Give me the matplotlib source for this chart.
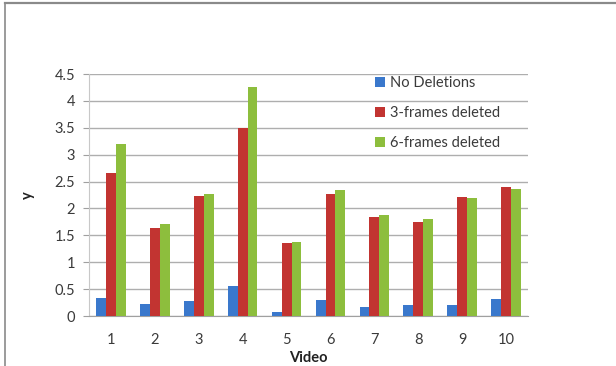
import matplotlib

matplotlib.use("Agg")
import matplotlib.pyplot as plt
import numpy as np
from matplotlib.lines import Line2D

videos = ["1", "2", "3", "4", "5", "6", "7", "8", "9", "10"]
no_deletions = [0.34, 0.22, 0.27, 0.55, 0.08, 0.30, 0.16, 0.20, 0.20, 0.32]
three_deleted = [2.66, 1.64, 2.24, 3.50, 1.35, 2.26, 1.85, 1.74, 2.22, 2.39]
six_deleted = [3.19, 1.71, 2.26, 4.25, 1.38, 2.35, 1.88, 1.81, 2.19, 2.36]
series_labels = ["No Deletions", "3-frames deleted", "6-frames deleted"]
y_ticks = [0, 0.5, 1, 1.5, 2, 2.5, 3, 3.5, 4, 4.5]

COLORS = ["#3A78CC", "#C23431", "#8DBE3D"]
TEXT_COLOR = "#3a3a3a"
GRID_COLOR = "#aeaeae"

plt.rcParams["font.family"] = ["Lato", "DejaVu Sans"]

fig = plt.figure(figsize=(6.16, 3.66), dpi=100)
ax = fig.add_axes([0.1445, 0.1366, 0.7127, 0.6612])

# outer chart frame (top and left edges only remain in view)
fig.add_artist(Line2D([5 / 616, 1.0], [1 - 3 / 366, 1 - 3 / 366], transform=fig.transFigure,
                      color="#8a8a8a", linewidth=1.6))
fig.add_artist(Line2D([5 / 616, 5 / 616], [0.0, 1 - 3 / 366], transform=fig.transFigure,
                      color="#8a8a8a", linewidth=1.2))

x = np.arange(len(videos))
width = 0.225
for offset, values, color, label in zip((-width, 0, width),
                                        (no_deletions, three_deleted, six_deleted),
                                        COLORS, series_labels):
    ax.bar(x + offset, values, width=width, color=color, label=label, zorder=3, linewidth=0)

ax.set_xlim(-0.5, len(videos) - 0.5)
ax.set_ylim(0, 4.5)
ax.set_yticks(y_ticks)
ax.set_yticklabels([f"{t:g}" for t in y_ticks])
ax.set_xticks(x)
ax.set_xticklabels(videos)
ax.yaxis.grid(True, color=GRID_COLOR, linewidth=1.0, zorder=0)
ax.set_axisbelow(True)

for side in ("top", "right"):
    ax.spines[side].set_visible(False)
ax.spines["left"].set_color("#c8c8c8")
ax.spines["bottom"].set_color("#a0a0a0")
ax.tick_params(axis="y", length=4, color="#a0a0a0", labelsize=10.5, labelcolor=TEXT_COLOR, pad=6)
ax.tick_params(axis="x", length=0, labelsize=10.5, labelcolor=TEXT_COLOR, pad=12)

ax.set_xlabel("Video", fontsize=10.5, fontweight="bold", color="#222222", labelpad=3)
ax.set_ylabel("y", fontsize=10.5, fontweight="bold", color="#222222", labelpad=14)

ax.legend(loc="upper left", bbox_to_anchor=(0.622, 1.045), frameon=False, fontsize=10.5,
          handlelength=0.65, handleheight=0.65, handletextpad=0.35, labelspacing=1.1,
          labelcolor=TEXT_COLOR)

fig.savefig("out.png", dpi=100)
